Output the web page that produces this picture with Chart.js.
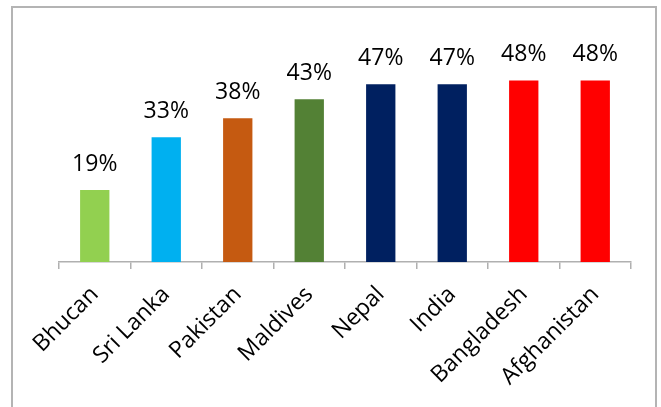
<!DOCTYPE html>
<html>
<head>
<meta charset="utf-8">
<script src="https://cdn.jsdelivr.net/npm/chart.js@4/dist/chart.umd.min.js"></script>
<style>
    html, body { margin: 0; padding: 0; background: #fff; }
    #wrap { position: relative; width: 661px; height: 407px; overflow: hidden; }
    #frame { position: absolute; left: 11px; top: 6px; width: 642px; height: 420px; border: 2px solid #b4b4b4; }
    canvas { position: absolute; left: 0; top: 0; }
</style>
</head>
<body>
<div id="wrap">
    <div id="frame"></div>
    <canvas id="chart" width="661" height="407"></canvas>
</div>
<script>
const countries = ['Bhucan', 'Sri Lanka', 'Pakistan', 'Maldives', 'Nepal', 'India', 'Bangladesh', 'Afghanistan']
const shares = [19, 33, 38, 43, 47, 47, 48, 48]
const barColors = ['#92D050', '#00B0F0', '#C55A11', '#538135', '#002060', '#002060', '#FF0000', '#FF0000']

// draws the "xx%" text above each bar
const valueLabels = {
    id: 'valueLabels',
    afterDatasetsDraw(chart) {
        const ctx = chart.ctx
        const meta = chart.getDatasetMeta(0)
        ctx.save()
        ctx.font = '23px "Open Sans"'
        ctx.fillStyle = '#000'
        ctx.textAlign = 'center'
        ctx.textBaseline = 'alphabetic'
        meta.data.forEach((bar, i) => {
            ctx.fillText(shares[i] + '%', bar.x, bar.y - 19)
        })
        ctx.restore()
    }
}

new Chart(document.getElementById('chart'), {
    type: 'bar',
    data: {
        labels: countries,
        datasets: [{
            data: shares,
            backgroundColor: barColors,
            categoryPercentage: 1,
            barPercentage: 0.41
        }]
    },
    options: {
        responsive: false,
        animation: false,
        layout: { padding: { left: 59, right: 30, top: 35, bottom: 0 } },
        plugins: {
            legend: { display: false },
            tooltip: { enabled: false }
        },
        scales: {
            x: {
                grid: {
                    offset: true,
                    drawOnChartArea: false,
                    drawTicks: true,
                    tickLength: 7,
                    color: '#b0b0b0',
                    lineWidth: 1.5
                },
                border: { display: true, color: '#b0b0b0', width: 1.5 },
                ticks: {
                    color: '#000',
                    font: { family: 'Open Sans', size: 23 },
                    minRotation: 45,
                    maxRotation: 45,
                    padding: 12,
                    autoSkip: false
                },
                afterFit: (scale) => { scale.height = 145 }
            },
            y: {
                display: false,
                min: 0,
                max: 60
            }
        }
    },
    plugins: [valueLabels]
});
</script>
</body>
</html>
